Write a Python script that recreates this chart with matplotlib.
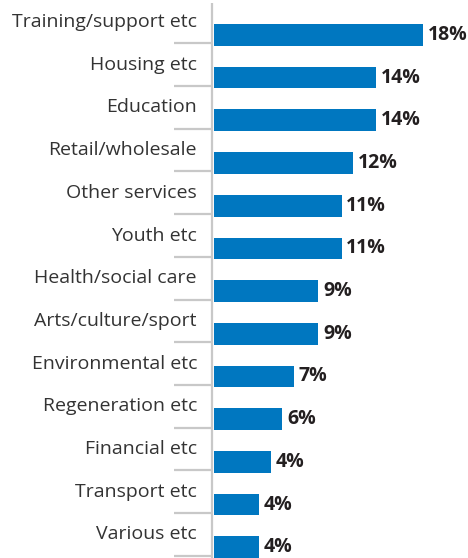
import matplotlib.pyplot as plt
from matplotlib.transforms import blended_transform_factory

# Data
categories = ['Training/support etc', 'Housing etc', 'Education', 'Retail/wholesale',
              'Other services', 'Youth etc', 'Health/social care', 'Arts/culture/sport',
              'Environmental etc', 'Regeneration etc', 'Financial etc', 'Transport etc',
              'Various etc']
values = [18.0, 14.0, 14.0, 12.0, 11.0, 11.0, 9.0, 9.0, 6.9, 5.9, 4.9, 3.9, 3.9]
value_labels = ['18%', '14%', '14%', '12%', '11%', '11%', '9%', '9%', '7%', '6%',
                '4%', '4%', '4%']

plt.rcParams['font.family'] = ['Open Sans', 'DejaVu Sans']

W, H = 468, 558
fig = plt.figure(figsize=(W / 100, H / 100), dpi=100)
ax = fig.add_axes([212 / W, 0, (W - 212) / W, 1])

y = list(range(len(categories)))
ax.barh(y, values, height=0.508, color='#0077c0', left=0)

ax.set_xlim(-0.17, (W - 212) / 11.6 - 0.17)
ax.set_ylim(12.25, -0.816)
ax.axis('off')

grey = '#c8c8c8'
ax.vlines(-0.17, -0.745, 12.25, color=grey, linewidth=1.6, clip_on=False)

trans = blended_transform_factory(ax.transAxes, ax.transData)
sep_x0 = (174 - 212) / (W - 212)
for i, (cat, v, lab) in enumerate(zip(categories, values, value_labels)):
    ax.text(-15 / (W - 212), i - 0.184, cat, transform=trans, ha='right',
            va='baseline', fontsize=14, color='#333333', clip_on=False)
    ax.plot([sep_x0, 0], [i + 0.198, i + 0.198], transform=trans, color=grey,
            linewidth=1.6, clip_on=False, solid_capstyle='butt')
    ax.text(v + 0.4, i, lab, ha='left', va='center', fontsize=14,
            fontweight='bold', color='#231f20')

fig.savefig('out.png', dpi=100)
